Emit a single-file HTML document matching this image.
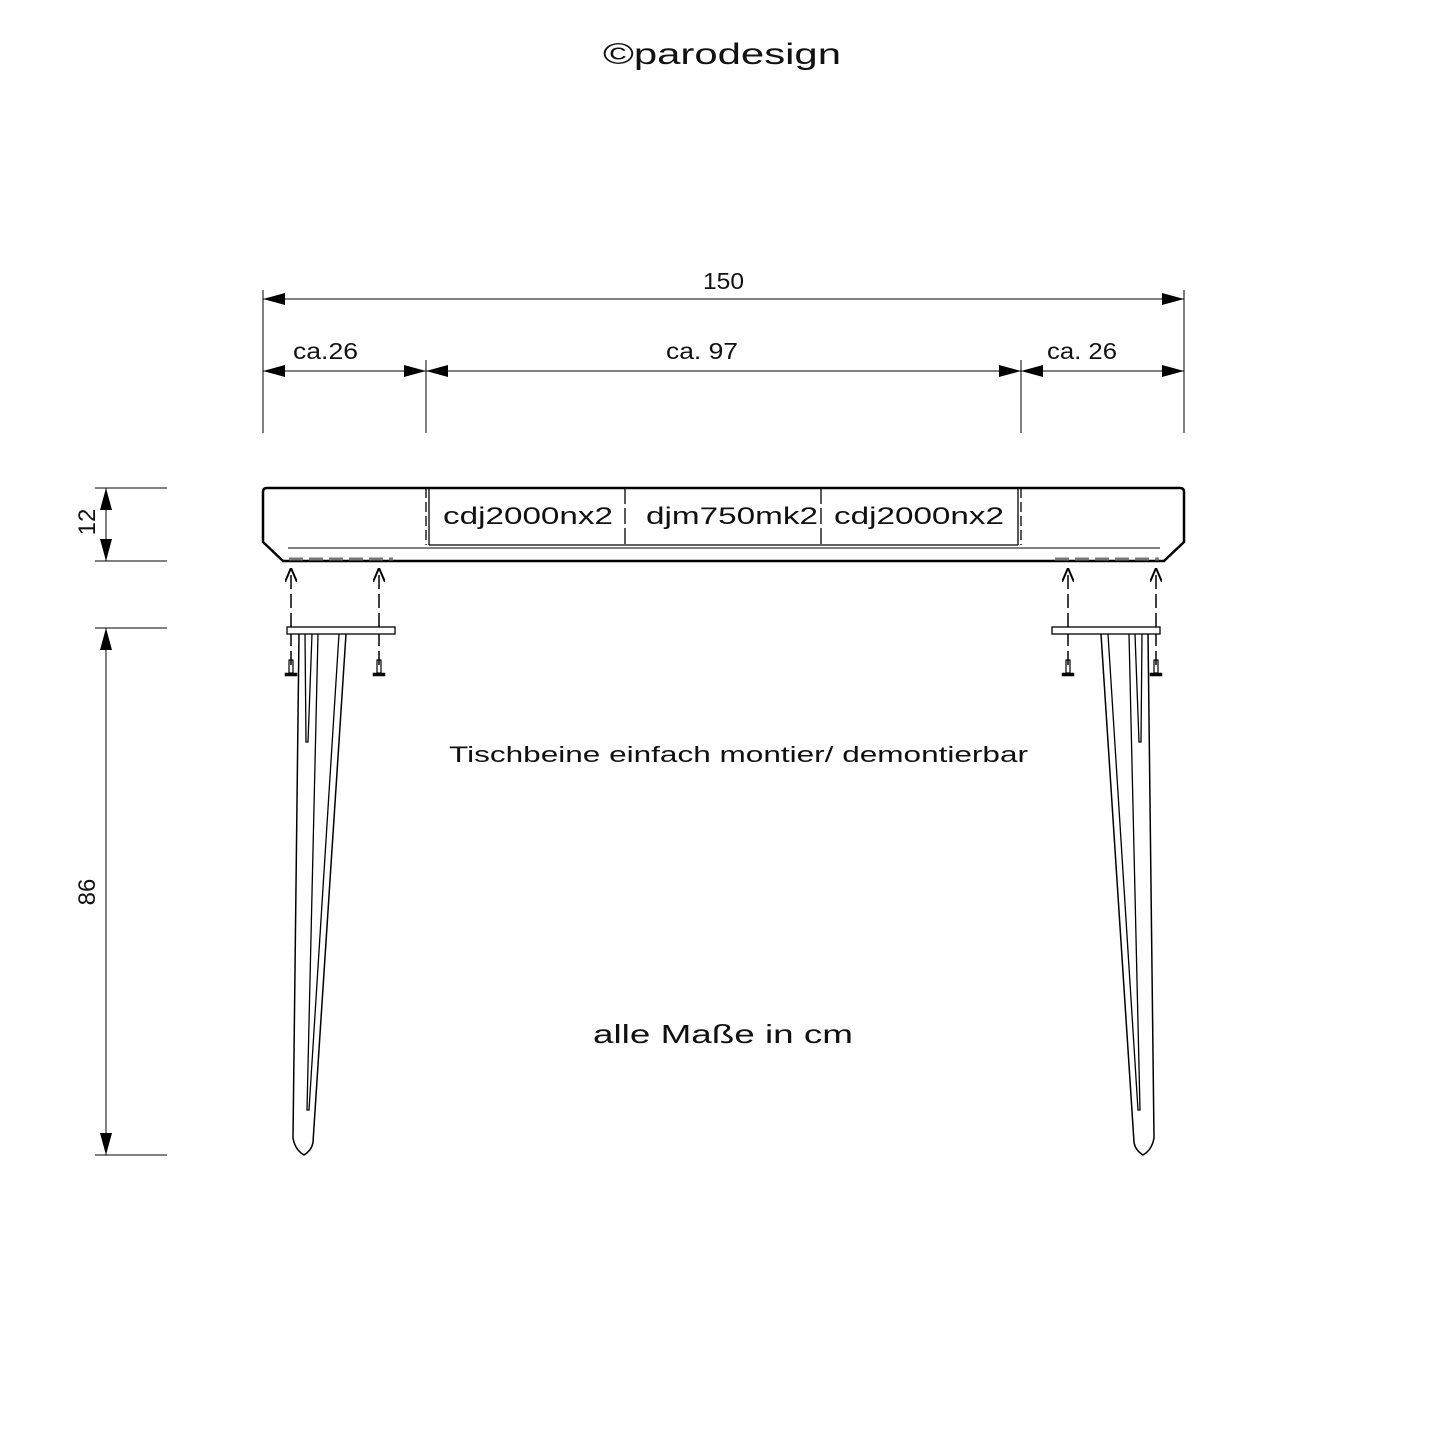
<!DOCTYPE html>
<html><head><meta charset="utf-8"><style>
html,body{margin:0;padding:0;background:#fff}
svg{display:block}
text{font-family:"Liberation Sans","DejaVu Sans",sans-serif;fill:#111}
</style></head><body>
<svg width="1445" height="1445" viewBox="0 0 1445 1445" xmlns="http://www.w3.org/2000/svg">
<defs>
<marker id="a" viewBox="0 0 22 12" refX="22" refY="6" markerWidth="22" markerHeight="12" markerUnits="userSpaceOnUse" orient="auto-start-reverse"><path d="M0,0 L22,6 L0,12 Z" fill="#000"/></marker>
<marker id="o" viewBox="0 0 14 12" refX="14" refY="6" markerWidth="14" markerHeight="12" markerUnits="userSpaceOnUse" orient="auto"><path d="M0,0 L14,6 L0,12" fill="none" stroke="#000" stroke-width="2"/></marker>
</defs>
<text x="603" y="64" font-size="30" textLength="238" lengthAdjust="spacingAndGlyphs">©parodesign</text>

<!-- horizontal dims -->
<g stroke="#000" stroke-width="1">
<line x1="263" y1="290" x2="263" y2="433"/>
<line x1="1184" y1="290" x2="1184" y2="433"/>
<line x1="426" y1="360" x2="426" y2="433"/>
<line x1="1021" y1="360" x2="1021" y2="433"/>
<line x1="263" y1="299" x2="1184" y2="299" marker-start="url(#a)" marker-end="url(#a)"/>
<line x1="263" y1="371" x2="426" y2="371" marker-start="url(#a)" marker-end="url(#a)"/>
<line x1="426" y1="371" x2="1021" y2="371" marker-start="url(#a)" marker-end="url(#a)"/>
<line x1="1021" y1="371" x2="1184" y2="371" marker-start="url(#a)" marker-end="url(#a)"/>
</g>
<text x="703" y="289" font-size="23" textLength="41" lengthAdjust="spacingAndGlyphs">150</text>
<text x="293" y="359" font-size="23" textLength="65" lengthAdjust="spacingAndGlyphs">ca.26</text>
<text x="666" y="359" font-size="23" textLength="72" lengthAdjust="spacingAndGlyphs">ca. 97</text>
<text x="1047" y="359" font-size="23" textLength="70" lengthAdjust="spacingAndGlyphs">ca. 26</text>

<!-- vertical dims -->
<g stroke="#000" stroke-width="1">
<line x1="95" y1="488" x2="167" y2="488"/>
<line x1="95" y1="561" x2="167" y2="561"/>
<line x1="95" y1="628" x2="167" y2="628"/>
<line x1="95" y1="1155" x2="167" y2="1155"/>
<line x1="106" y1="488" x2="106" y2="561" marker-start="url(#a)" marker-end="url(#a)"/>
<line x1="106" y1="628" x2="106" y2="1155" marker-start="url(#a)" marker-end="url(#a)"/>
</g>
<text transform="translate(95,522) rotate(-90)" font-size="24" text-anchor="middle">12</text>
<text transform="translate(95,892) rotate(-90)" font-size="24" text-anchor="middle">86</text>

<!-- table top -->
<path d="M263,542 L263,492 Q263,488 267,488 L1180,488 Q1184,488 1184,492 L1184,542 L1164,561 L283,561 Z" fill="none" stroke="#000" stroke-width="2.5"/>
<line x1="288" y1="548" x2="1160" y2="548" stroke="#000" stroke-width="1"/>
<g stroke="#777" stroke-width="3" stroke-dasharray="14,6">
<line x1="289" y1="559" x2="393" y2="559"/>
<line x1="1055" y1="559" x2="1159" y2="559"/>
</g>
<g stroke="#000" stroke-width="1.3" fill="none">
<line x1="426" y1="488" x2="426" y2="545" stroke-dasharray="10,4"/>
<line x1="429" y1="488" x2="429" y2="545"/>
<line x1="1018" y1="488" x2="1018" y2="545"/>
<line x1="1021" y1="488" x2="1021" y2="545" stroke-dasharray="10,4"/>
<line x1="429" y1="545" x2="1018" y2="545"/>
<line x1="625" y1="488" x2="625" y2="545" stroke-dasharray="16,4"/>
<line x1="821" y1="488" x2="821" y2="545" stroke-dasharray="16,4"/>
</g>
<text x="443" y="524" font-size="24" textLength="170" lengthAdjust="spacingAndGlyphs">cdj2000nx2</text>
<text x="646" y="524" font-size="24" textLength="172" lengthAdjust="spacingAndGlyphs">djm750mk2</text>
<text x="834" y="524" font-size="24" textLength="170" lengthAdjust="spacingAndGlyphs">cdj2000nx2</text>

<!-- legs -->
<g id="leg" fill="none" stroke="#000">
<line x1="291" y1="665" x2="291" y2="568" stroke-width="1.5" stroke-dasharray="14,5" marker-end="url(#o)"/>
<line x1="379" y1="665" x2="379" y2="568" stroke-width="1.5" stroke-dasharray="14,5" marker-end="url(#o)"/>
<rect x="287" y="627" width="108" height="7" stroke-width="1.3" fill="#fff"/>
<path d="M299,634 L293,1138 Q295,1150 304,1155 Q312,1150 313,1142 L346,634" stroke-width="1.5"/>
<path d="M318,634 L307,1110 L309,1110 L339,634" stroke-width="1.3"/>
<path d="M305,634 L306,742 L308,742 L312,634" stroke-width="1.3"/>
<rect x="289" y="660" width="4" height="13" stroke-width="1.2"/>
<rect x="285" y="673" width="12" height="3" fill="#000" stroke-width="0.5"/>
<rect x="377" y="660" width="4" height="13" stroke-width="1.2"/>
<rect x="373" y="673" width="12" height="3" fill="#000" stroke-width="0.5"/>
</g>
<use href="#leg" transform="translate(1447,0) scale(-1,1)"/>

<text x="449" y="762" font-size="22" textLength="579" lengthAdjust="spacingAndGlyphs">Tischbeine einfach montier/ demontierbar</text>
<text x="593" y="1043" font-size="26" textLength="260" lengthAdjust="spacingAndGlyphs">alle Maße in cm</text>
</svg>
</body></html>
